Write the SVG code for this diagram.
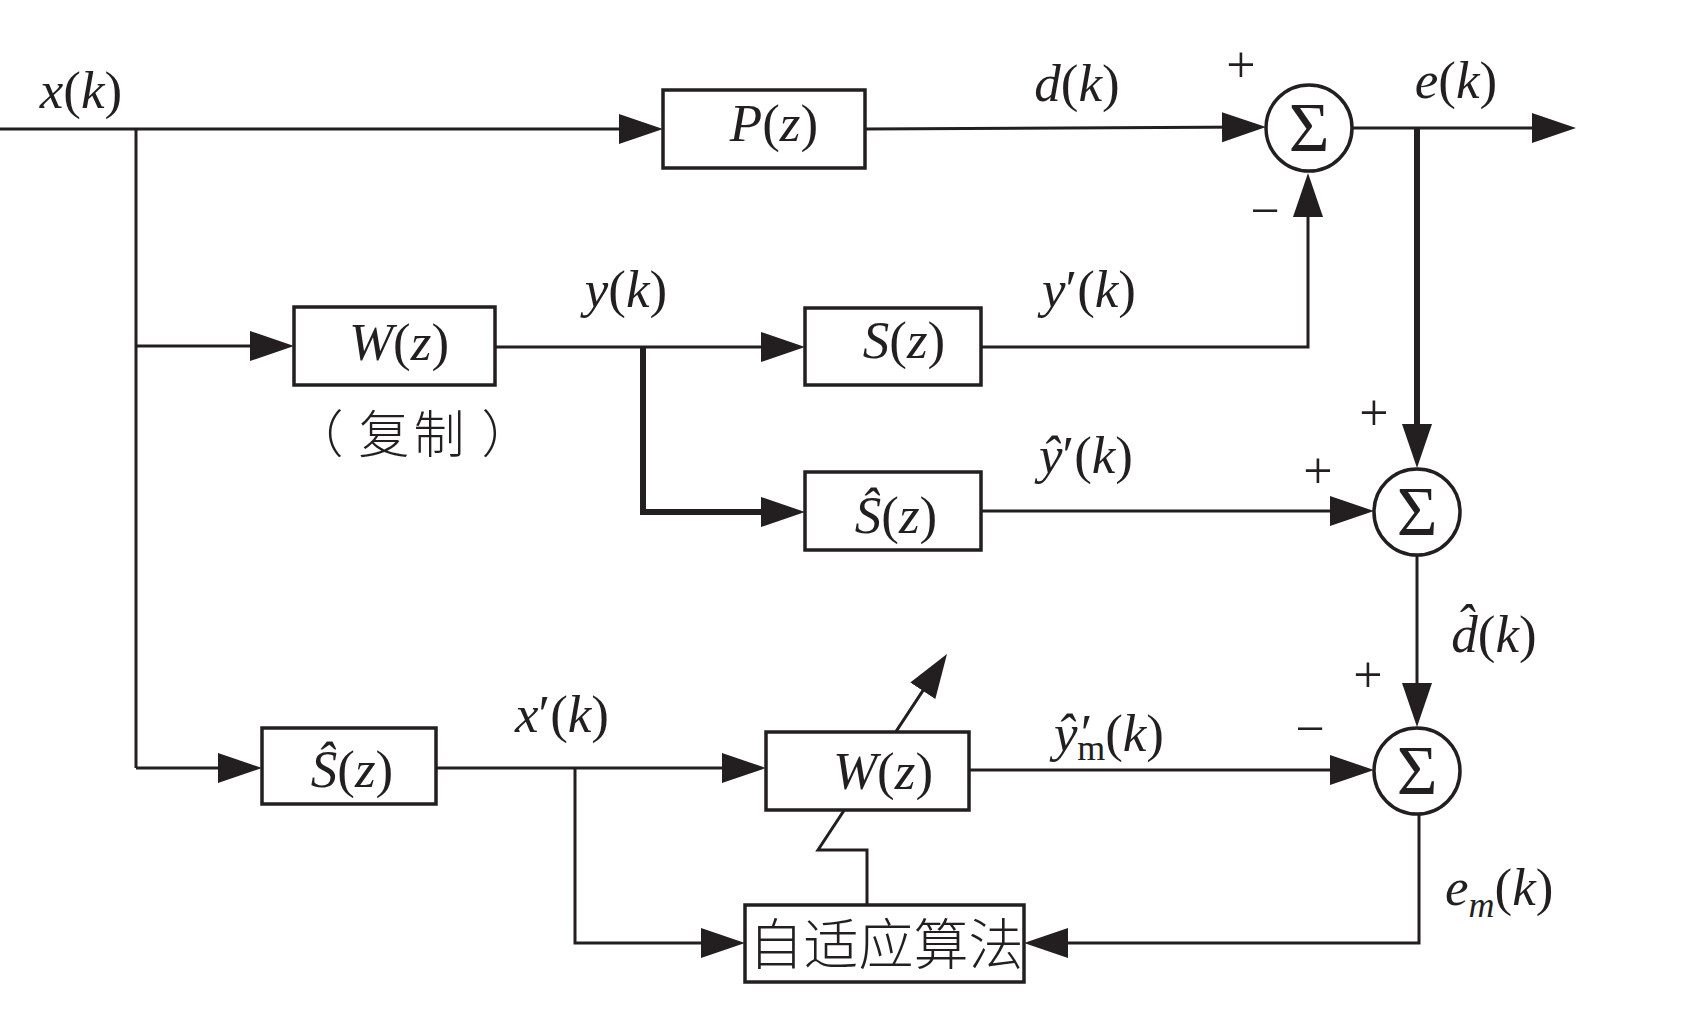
<svg xmlns="http://www.w3.org/2000/svg" width="1688" height="1017" viewBox="0 0 1688 1017">
<style>
.ln{fill:none;stroke:#231f20;stroke-width:3}
.thk{fill:none;stroke:#231f20;stroke-width:6}
.box{fill:#fff;stroke:#231f20;stroke-width:3.5}
.t{font-family:"Liberation Serif","Times New Roman",serif;font-size:53px;fill:#231f20;text-anchor:middle}
.i{font-style:italic}
.sg{font-family:"Liberation Serif","Times New Roman",serif;font-size:70px;fill:#231f20;text-anchor:middle}
.pm{font-family:"Liberation Serif","Times New Roman",serif;font-size:52px;fill:#231f20;text-anchor:middle}
.cn{font-family:"Noto Sans CJK SC","Noto Sans CJK TC",sans-serif;fill:#231f20;text-anchor:middle;font-weight:300}
.sub{font-size:36px}
</style>
<defs>
<marker id="ah" markerUnits="userSpaceOnUse" markerWidth="46" markerHeight="32" refX="34" refY="15" orient="auto">
<path d="M0,0 L44,15 L0,30 Z" fill="#231f20"/>
</marker>
</defs>
<rect width="1688" height="1017" fill="#fff"/>
<g id="connectors">
<path class="ln" d="M0,129 H653" marker-end="url(#ah)"/>
<path class="ln" d="M136,129 V768"/>
<path class="ln" d="M136,346 H284" marker-end="url(#ah)"/>
<path class="ln" d="M136,768 H252" marker-end="url(#ah)"/>
<path class="ln" d="M865,129 L1256,127" marker-end="url(#ah)"/>
<path class="ln" d="M1352,128 H1566" marker-end="url(#ah)"/>
<path class="thk" d="M1417,128 V458" marker-end="url(#ah)"/>
<path class="ln" d="M495,347 H795" marker-end="url(#ah)"/>
<path class="thk" d="M643,347 V512 H795" marker-end="url(#ah)"/>
<path class="ln" d="M981,347 H1308 V183" marker-end="url(#ah)"/>
<path class="ln" d="M981,511 H1364" marker-end="url(#ah)"/>
<path class="ln" d="M1417,555 V717" marker-end="url(#ah)"/>
<path class="ln" d="M436,768 H756" marker-end="url(#ah)"/>
<path class="ln" d="M575,768 V943 H735" marker-end="url(#ah)"/>
<path class="ln" d="M969,770 H1364" marker-end="url(#ah)"/>
<path class="ln" d="M1419,814 V943 H1034" marker-end="url(#ah)"/>
<path class="ln" d="M867,905 V850 H818 L941.5,662.4" marker-end="url(#ah)"/>
</g>
<g id="P">
<rect class="box" x="663" y="90" width="202" height="78"/>
<text class="t" x="774" y="141"><tspan class="i">P</tspan>(<tspan class="i">z</tspan>)</text>
</g>
<g id="sum1">
<circle class="box" cx="1309" cy="128" r="43"/>
<text class="sg" x="1309" y="151">Σ</text>
</g>
<g id="W1">
<rect class="box" x="294" y="307" width="201" height="78"/>
<text class="t" x="399" y="360"><tspan class="i">W</tspan>(<tspan class="i">z</tspan>)</text>
</g>
<g id="S">
<rect class="box" x="805" y="308" width="176" height="77"/>
<text class="t" x="904" y="358"><tspan class="i">S</tspan>(<tspan class="i">z</tspan>)</text>
</g>
<g id="Shat1">
<rect class="box" x="805" y="472" width="176" height="78"/>
<text class="t" x="896" y="533"><tspan class="i">Ŝ</tspan>(<tspan class="i">z</tspan>)</text>
</g>
<g id="sum2">
<circle class="box" cx="1417" cy="512" r="43"/>
<text class="sg" x="1417" y="535">Σ</text>
</g>
<g id="sum3">
<circle class="box" cx="1417" cy="771" r="43"/>
<text class="sg" x="1417" y="794">Σ</text>
</g>
<g id="Shat2">
<rect class="box" x="262" y="728" width="174" height="76"/>
<text class="t" x="352" y="787"><tspan class="i">Ŝ</tspan>(<tspan class="i">z</tspan>)</text>
</g>
<g id="W2">
<rect class="box" x="766" y="732" width="203" height="78"/>
<text class="t" x="883" y="789"><tspan class="i">W</tspan>(<tspan class="i">z</tspan>)</text>
</g>
<g id="algo">
<rect class="box" x="745" y="905" width="279" height="77"/>
<text class="cn" x="886" y="964" font-size="55">自适应算法</text>
</g>
<g id="labels">
<text class="t" x="81" y="108"><tspan class="i">x</tspan>(<tspan class="i">k</tspan>)</text>
<text class="t" x="1077" y="101"><tspan class="i">d</tspan>(<tspan class="i">k</tspan>)</text>
<text class="t" x="1456" y="98"><tspan class="i">e</tspan>(<tspan class="i">k</tspan>)</text>
<text class="pm" x="1241" y="82">+</text>
<text class="pm" x="1265" y="228">−</text>
<text class="cn" x="318 384 439 507" y="453" font-size="51">（复制）</text>
<text class="t" x="626" y="307"><tspan class="i">y</tspan>(<tspan class="i">k</tspan>)</text>
<text class="t" x="1089" y="307"><tspan class="i">y</tspan>′(<tspan class="i">k</tspan>)</text>
<text class="pm" x="1374" y="430">+</text>
<text class="t" x="1086" y="473"><tspan class="i">ŷ</tspan>′(<tspan class="i">k</tspan>)</text>
<text class="pm" x="1318" y="488">+</text>
<text class="t" x="1494" y="652"><tspan class="i">d̂</tspan>(<tspan class="i">k</tspan>)</text>
<text class="pm" x="1368" y="692">+</text>
<text class="pm" x="1310" y="746">−</text>
<text class="t" x="562" y="732"><tspan class="i">x</tspan>′(<tspan class="i">k</tspan>)</text>
<text class="t" x="1054" y="751" style="text-anchor:start"><tspan class="i">ŷ</tspan><tspan class="i">′</tspan><tspan class="sub" dx="-12" dy="9">m</tspan><tspan dy="-9">(</tspan><tspan class="i">k</tspan>)</text>
<text class="t" x="1445" y="905" style="text-anchor:start"><tspan class="i">e</tspan><tspan class="i sub" dy="12">m</tspan><tspan dy="-12">(</tspan><tspan class="i">k</tspan>)</text>
</g>
</svg>
